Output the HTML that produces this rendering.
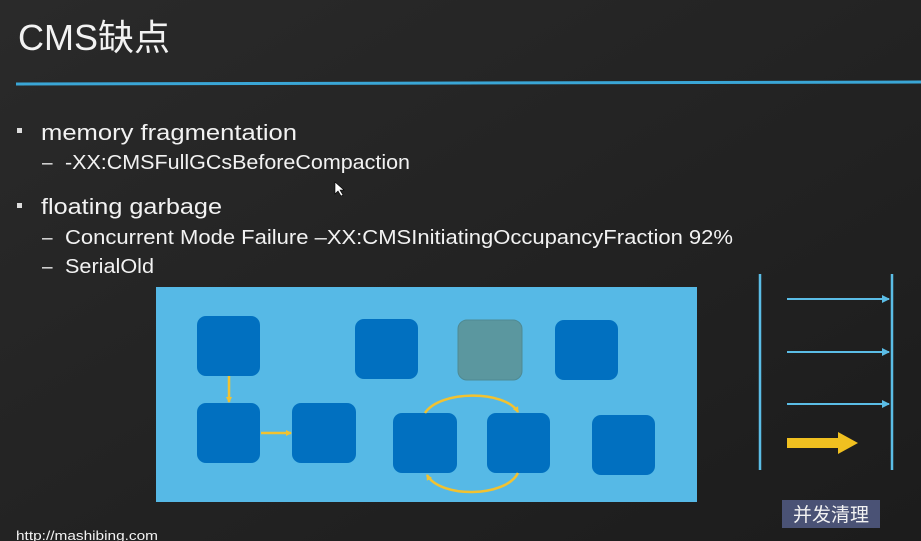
<!DOCTYPE html>
<html><head><meta charset="utf-8"><style>
html,body{margin:0;padding:0;background:#242424;}
svg{display:block}
text{font-family:"Liberation Sans","Noto Sans CJK SC",sans-serif;fill:#f2f2f2}
</style></head><body>
<svg width="921" height="541" viewBox="0 0 921 541" xmlns="http://www.w3.org/2000/svg">
<defs>
<linearGradient id="bg" x1="0" y1="0" x2="1" y2="1">
<stop offset="0" stop-color="#2a2a2a"/><stop offset="0.5" stop-color="#232323"/><stop offset="1" stop-color="#1c1c1c"/>
</linearGradient>
<marker id="ay" markerWidth="6" markerHeight="6" refX="5" refY="3" orient="auto" markerUnits="userSpaceOnUse"><path d="M0,0 L6,3 L0,6 z" fill="#f2c230"/></marker>
<marker id="ab" markerWidth="8" markerHeight="8" refX="7" refY="4" orient="auto" markerUnits="userSpaceOnUse"><path d="M0,0 L8,4 L0,8 z" fill="#5bbde6"/></marker>
</defs>
<rect width="921" height="541" fill="url(#bg)"/>
<text x="18" y="50" font-size="36" textLength="152" lengthAdjust="spacingAndGlyphs">CMS缺点</text>
<line x1="16" y1="84" x2="921" y2="82" stroke="#3aa6d6" stroke-width="3"/>
<rect x="17" y="128" width="5" height="5" fill="#ddd"/>
<text x="41" y="140" font-size="22" textLength="256" lengthAdjust="spacingAndGlyphs">memory fragmentation</text>
<text x="42" y="169" font-size="19">–</text>
<text x="65" y="169" font-size="20" textLength="345" lengthAdjust="spacingAndGlyphs">-XX:CMSFullGCsBeforeCompaction</text>
<rect x="17" y="203" width="5" height="5" fill="#ddd"/>
<text x="41" y="214" font-size="22" textLength="181" lengthAdjust="spacingAndGlyphs">floating garbage</text>
<text x="42" y="244" font-size="19">–</text>
<text x="65" y="244" font-size="20" textLength="668" lengthAdjust="spacingAndGlyphs">Concurrent Mode Failure –XX:CMSInitiatingOccupancyFraction 92%</text>
<text x="42" y="273" font-size="19">–</text>
<text x="65" y="273" font-size="20" textLength="89" lengthAdjust="spacingAndGlyphs">SerialOld</text>
<path d="M335,182 l0,12 l3,-3 l3,5 l2,-1 l-3,-5 l4,0 z" fill="#fff" stroke="#000" stroke-width="0.6"/>

<rect x="156" y="287" width="541" height="215" fill="#56b9e6"/>
<g fill="#0170c0">
<rect x="197" y="316" width="63" height="60" rx="9"/>
<rect x="355" y="319" width="63" height="60" rx="9"/>
<rect x="555" y="320" width="63" height="60" rx="9"/>
<rect x="197" y="403" width="63" height="60" rx="9"/>
<rect x="292" y="403" width="64" height="60" rx="9"/>
<rect x="393" y="413" width="64" height="60" rx="9"/>
<rect x="487" y="413" width="63" height="60" rx="9"/>
<rect x="592" y="415" width="63" height="60" rx="9"/>
</g>
<rect x="458" y="320" width="64" height="60" rx="9" fill="#5b979f" stroke="#4f8a93"/>
<g stroke="#f2c230" stroke-width="2.5" fill="none">
<line x1="229" y1="376" x2="229" y2="402" marker-end="url(#ay)"/>
<line x1="261" y1="433" x2="291" y2="433" marker-end="url(#ay)"/>
<path d="M425,413 C440,390 505,390 518,412" marker-end="url(#ay)"/>
<path d="M518,473 C505,498 440,498 427,475" marker-end="url(#ay)"/>
</g>

<g stroke="#5bbde6" stroke-width="2.5">
<line x1="760" y1="274" x2="760" y2="470"/>
<line x1="892" y1="274" x2="892" y2="470"/>
</g>
<g stroke="#5bbde6" stroke-width="2">
<line x1="787" y1="299" x2="889" y2="299" marker-end="url(#ab)"/>
<line x1="787" y1="352" x2="889" y2="352" marker-end="url(#ab)"/>
<line x1="787" y1="404" x2="889" y2="404" marker-end="url(#ab)"/>
</g>
<path d="M787,438 L838,438 L838,432 L858,443 L838,454 L838,448 L787,448 z" fill="#f0c020"/>
<rect x="782" y="500" width="98" height="28" fill="#4a5275"/>
<text x="831" y="521" font-size="19" text-anchor="middle">并发清理</text>
<text x="16" y="540" font-size="13" textLength="142" lengthAdjust="spacingAndGlyphs">http://mashibing.com</text>
</svg>
</body></html>
